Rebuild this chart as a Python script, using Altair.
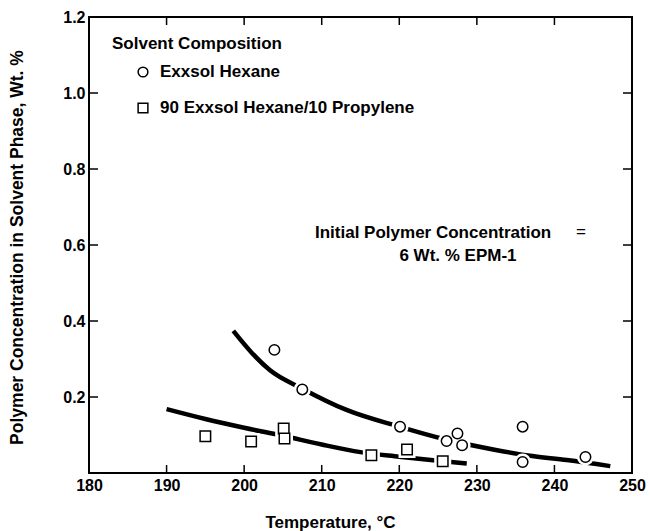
import altair as alt
import pandas as pd

FONT = "Liberation Sans"

# Measured polymer concentration in the solvent phase (wt. %) vs temperature (°C)
hexane_temp = [203.9, 207.5, 220.1, 226.1, 227.5, 228.1, 235.9, 235.9, 244.0]
hexane_conc = [0.324, 0.220, 0.122, 0.084, 0.104, 0.073, 0.122, 0.029, 0.042]
mix_temp = [195.0, 200.9, 205.1, 205.2, 216.4, 221.0, 225.6]
mix_conc = [0.097, 0.083, 0.117, 0.091, 0.047, 0.062, 0.031]

# Smoothed trend curves
hexane_curve_temp = [198.6, 201.0, 203.3, 207.5, 213.2, 220.0, 226.0, 232.6, 236.6, 241.6, 247.2]
hexane_curve_conc = [0.374, 0.316, 0.271, 0.222, 0.166, 0.122, 0.088, 0.060, 0.046, 0.034, 0.018]
mix_curve_temp = [190.0, 195.0, 200.0, 205.0, 210.0, 215.0, 220.0, 225.0, 228.7]
mix_curve_conc = [0.168, 0.142, 0.119, 0.098, 0.075, 0.055, 0.043, 0.032, 0.025]

solvents = ["Exxsol Hexane", "90 Exxsol Hexane/10 Propylene"]
symbols = ["circle", "square"]
x_labels = [180, 190, 200, 210, 220, 230, 240, 250]
y_labels = [0.2, 0.4, 0.6, 0.8, 1.0, 1.2]
x_minor = [190, 200, 210, 220, 230, 240]
y_minor = [0.2, 0.4, 0.6, 0.8, 1.0]

points = pd.DataFrame({
    "temp": hexane_temp + mix_temp,
    "conc": hexane_conc + mix_conc,
    "solvent": [solvents[0]] * len(hexane_temp) + [solvents[1]] * len(mix_temp),
})
curves = pd.DataFrame({
    "temp": hexane_curve_temp + mix_curve_temp,
    "conc": hexane_curve_conc + mix_curve_conc,
    "solvent": [solvents[0]] * len(hexane_curve_temp) + [solvents[1]] * len(mix_curve_temp),
})
xt = pd.DataFrame({"temp": x_minor})
yt = pd.DataFrame({"conc": y_minor})

W, H = 543, 456
TICK = 8

x_axis = alt.Axis(
    values=x_labels, ticks=False, domain=False, grid=False, labelFlush=False,
    labelOverlap=False, labelFont=FONT, labelFontSize=16, labelFontWeight="bold",
    labelColor="black", labelPadding=4,
    title="Temperature, °C", titleFont=FONT, titleFontSize=17, titleFontWeight="bold",
    titleColor="black", titleX=241, titleY=49, titleAlign="center", titleBaseline="middle",
)
y_axis = alt.Axis(
    values=y_labels, format=".1f", ticks=False, domain=False, grid=False,
    labelOverlap=False, labelFont=FONT, labelFontSize=16, labelFontWeight="bold",
    labelColor="black", labelPadding=4,
    title="Polymer Concentration in Solvent Phase, Wt. %", titleFont=FONT,
    titleFontSize=17.5, titleFontWeight="bold", titleColor="black",
    titleX=-72, titleY=230, titleAngle=270, titleAlign="center", titleBaseline="middle",
)

x_enc = alt.X("temp:Q", scale=alt.Scale(domain=[180, 250], nice=False, zero=False), axis=x_axis)
y_enc = alt.Y("conc:Q", scale=alt.Scale(domain=[0, 1.2], nice=False, zero=False), axis=y_axis)

shape_enc = alt.Shape("solvent:N", scale=alt.Scale(domain=solvents, range=symbols), legend=None)

lines = alt.Chart(curves).mark_line(
    color="black", strokeWidth=4.5, interpolate="monotone", strokeCap="butt"
).encode(x=x_enc, y=y_enc, detail="solvent:N")

# White halo under each marker so the curves break around the symbols
halo = alt.Chart(points).mark_point(
    filled=True, fill="white", stroke="white", strokeWidth=4, opacity=1, size=170
).encode(x=x_enc, y=y_enc, shape=shape_enc)

markers = alt.Chart(points).mark_point(
    filled=True, fill="white", stroke="black", strokeWidth=1.5, opacity=1, size=110
).encode(x=x_enc, y=y_enc, shape=shape_enc)

# Inward tick marks on all four sides of the frame
bottom_ticks = alt.Chart(xt).mark_rule(color="black", strokeWidth=1.5).encode(
    x=x_enc, y=alt.value(H), y2=alt.value(H - TICK))
top_ticks = alt.Chart(xt).mark_rule(color="black", strokeWidth=1.5).encode(
    x=x_enc, y=alt.value(0), y2=alt.value(TICK))
left_ticks = alt.Chart(yt).mark_rule(color="black", strokeWidth=1.5).encode(
    y=y_enc, x=alt.value(0), x2=alt.value(TICK + 1))
right_ticks = alt.Chart(yt).mark_rule(color="black", strokeWidth=1.5).encode(
    y=y_enc, x=alt.value(W), x2=alt.value(W - TICK - 1))

text_style = dict(baseline="middle", font=FONT, fontSize=17, fontWeight="bold", color="black")

# Key: title, one symbol and label per solvent
key_title = alt.Chart().mark_text(align="left", text="Solvent Composition", **text_style).encode(
    x=alt.value(23), y=alt.value(27))
key_layers = [key_title]
for i, (name, sym) in enumerate(zip(solvents, symbols)):
    row_y = 55 + 36 * i
    key_layers.append(
        alt.Chart().mark_point(
            shape=sym, filled=True, fill="white", stroke="black", strokeWidth=1.5,
            opacity=1, size=95
        ).encode(x=alt.value(54), y=alt.value(row_y))
    )
    key_layers.append(
        alt.Chart().mark_text(align="left", text=name, **text_style).encode(
            x=alt.value(71), y=alt.value(row_y))
    )

note1 = alt.Chart().mark_text(
    align="left", text="Initial Polymer Concentration", **text_style
).encode(x=alt.value(226), y=alt.value(216))
note_eq = alt.Chart().mark_text(
    align="center", text="=", baseline="middle", font=FONT, fontSize=17,
    fontWeight="normal", color="black"
).encode(x=alt.value(492), y=alt.value(215))
note2 = alt.Chart().mark_text(align="center", text="6 Wt. % EPM-1", **text_style).encode(
    x=alt.value(369), y=alt.value(239))

chart = alt.layer(
    lines, halo, markers, bottom_ticks, top_ticks, left_ticks, right_ticks,
    *key_layers, note1, note_eq, note2
).properties(
    width=W, height=H,
    autosize=alt.AutoSizeParams(type="none"),
    padding={"left": 89, "top": 17, "right": 18, "bottom": 58},
).configure_view(stroke="black", strokeWidth=2)

chart.save("out.html", embed_options={"renderer": "svg", "actions": False})
